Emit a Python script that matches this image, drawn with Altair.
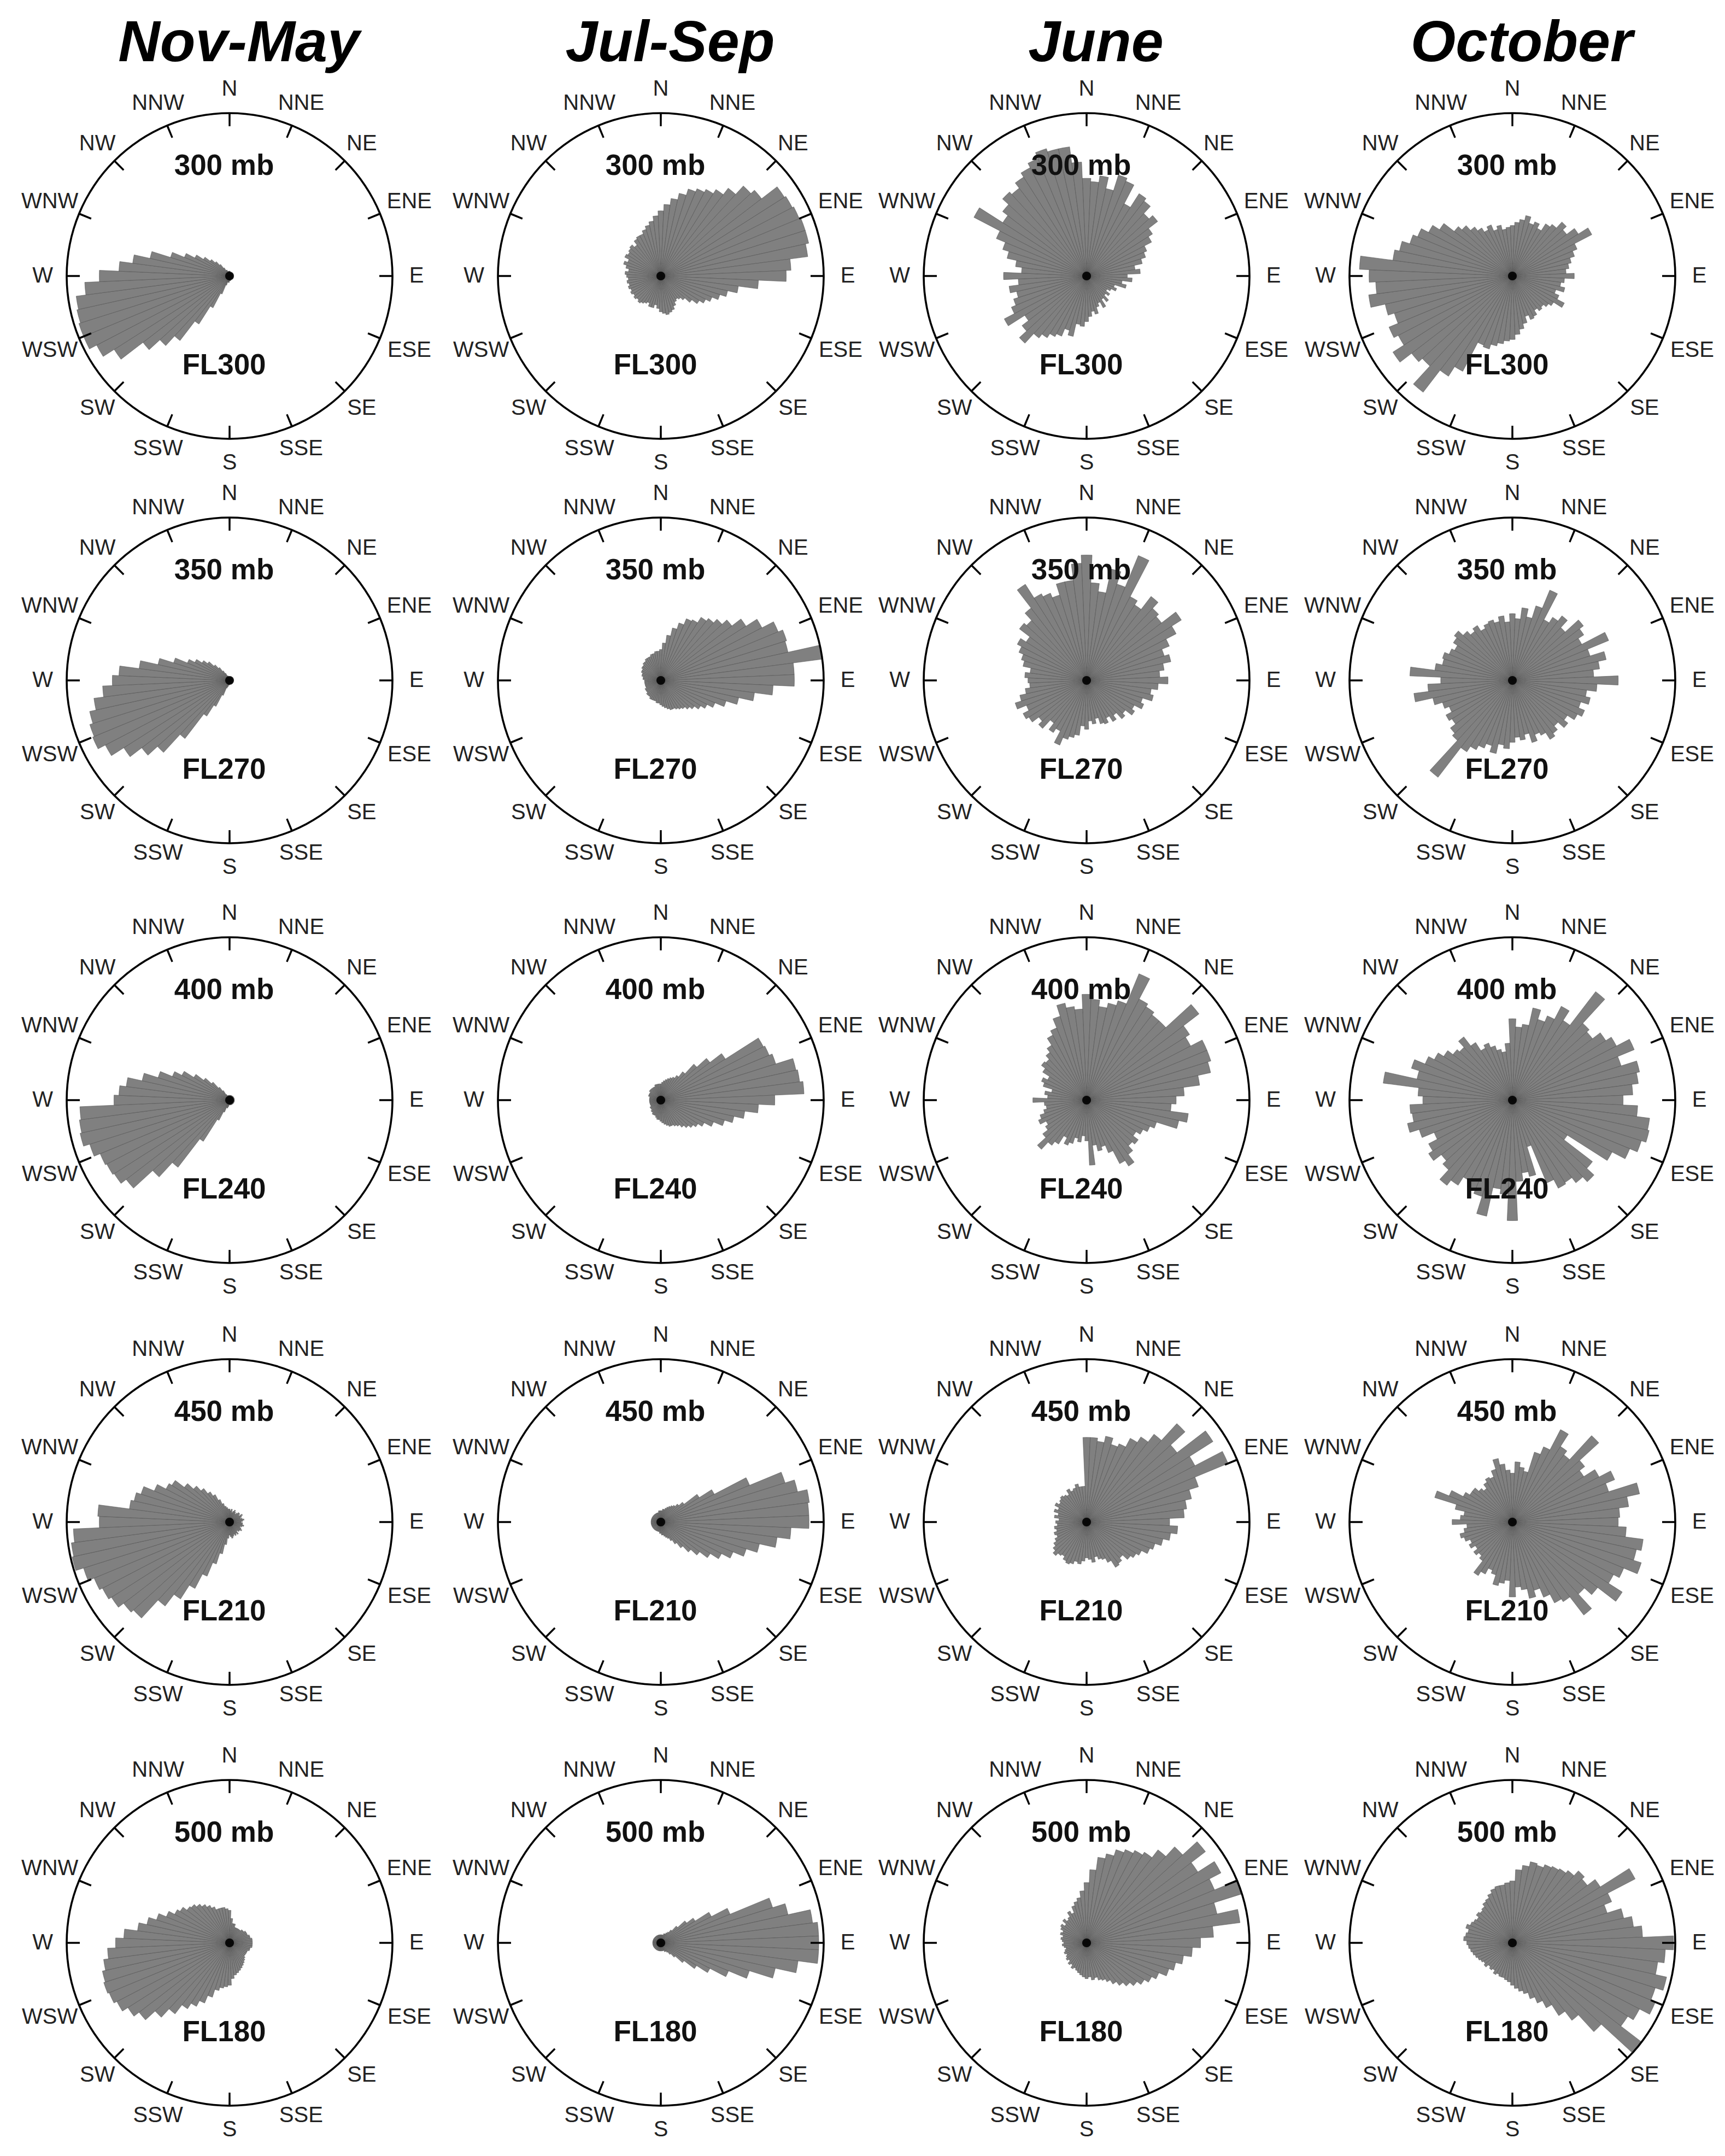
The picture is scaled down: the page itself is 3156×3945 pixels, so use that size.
import math
import altair as alt
import pandas as pd

SEASONS = ["Nov-May", "Jul-Sep", "June", "October"]
LEVELS_MB = ["300 mb", "350 mb", "400 mb", "450 mb", "500 mb"]
FLIGHT_LEVELS = ["FL300", "FL270", "FL240", "FL210", "FL180"]
COMPASS = ["N", "NNE", "NE", "ENE", "E", "ESE", "SE", "SSE",
           "S", "SSW", "SW", "WSW", "W", "WNW", "NW", "NNW"]
DIR_BINS = list(range(0, 360, 5))  # bin centres, degrees clockwise from N

# relative frequency per 5-degree bin (100 = outer circle)
NOV_MAY_300 = [3,3,2,2,2,2,2,2,2,2, 2,2,2,2,2,2,2,2,2,2, 2,2,2,2,2,2,2,2,2,2,
               2,2,2,2,3,3,3,4,4,4, 6,12,22,35,50,58,67,84,92,97, 97,96,95,89,80,68,60,50,38,30,
               24,19,15,12,9,6,4,4,3,3, 3,3]
NOV_MAY_350 = [2]*37 + [3,3,4] + [5,10,18,26,45,60,68,77,86,91, 90,88,84,78,72,68,56,45,36,28,
               24,20,17,13,10,7,5,3,3,2, 2,2]
NOV_MAY_400 = [3]*38 + [4,5,5,8,14,30,52,64,80,84, 85,86,90,94,93,92,71,68,64,55,
               46,38,33,26,20,15,10,7,4,3, 3,3,3,3]
NOV_MAY_450 = [8,7,8,6,7,8,7,6,7,8, 8,7,9,8,7,8,9,8,7,8, 8,9,8,7,8,9,8,8,7,9, 8,9,8,9,10,9,
               8,10,14,20,27,36,46,56,65,80, 82,86,88,90,94,99,98,96,80,81,
               62,60,57,50,44,42,35,30,26,22, 19,15,12,10,9,8]
NOV_MAY_500 = [20,15,12,12,10,10,10,10,10,11, 11,12,12,12,13,13,14,14,14,14,
               14,13,13,12,12,12,12,13,14,15, 16,17,18,19,20,22,26,27,28,30,
               35,40,44,48,55,62,70,74,78,80, 81,80,78,75,70,65,57,52,47,42,
               38,36,33,32,30,28,26,24,22,22, 22,21]

JUL_SEP_300 = [40,44,48,52,56,58,60,63,68,75, 78,90,91,92,93,93,91,80,77,60,
               48,42,38,34,31,28,24,20,18,17, 18,20,22,23,24,23,22,20,18,20,
               20,18,19,20,21,20,21,20,21,20, 21,20,21,20,21,22,20,22,24,22,
               25,24,25,26,24,27,28,28,30,32, 34,37]
JUL_SEP_350 = [19,23,28,33,37,41,42,46,48,51, 55,62,70,78,81,80,100,82,82,69,
               58,49,42,36,32,29,26,24,22,21, 20,19,19,18,17,16,15,14,14,13,
               13,13,13,12,12,12,11,11,11,10, 10,10,10,10,10,11,11,12,12,13,
               13,14,14,15,15,16,16,16,17,17, 18,18]
JUL_SEP_400 = [10,11,12,13,14,15,16,18,22,30, 38,47,71,72,74,85,86,88,70,60,
               52,46,41,35,30,27,25,23,21,19, 18,17,17,16,15,14,13,12,12,11,
               10,10,10,9,9,8,8,8,7,7, 7,7,7,7,7,7,7,7,8,8,
               8,8,9,9,9,9,9,9,10,10, 10,10]
JUL_SEP_450 = [7,7,8,8,9,10,11,12,13,15, 18,28,37,59,80,86,92,91,91,80,
               72,62,55,48,42,36,30,25,20,16, 13,11,10,9,8,8,
               7,7,6,6,6,6,6,6,6,6, 6,6,6,6,6,6,6,6,6,6, 6,6,6,6,6,6,6,6,6,6, 6,6,6,6,7,7]
JUL_SEP_500 = [5,5,5,5,6,6,7,8,10,14, 20,25,35,46,72,80,94,97,97,97,
               85,72,57,45,34,26,18,12,9,7, 6,6,5] + [5]*39

JUNE_300 = [60,58,62,55,65,63,50,60,58,52, 55,48,45,40,38,35,30,33,25,28,
            22,25,18,20,17,15,18,16,20,17, 22,18,20,24,22,25,28,31,30,38,
            35,40,42,45,48,56,50,45,57,50, 47,44,48,42,51,40,44,50,54,60,
            78,61,65,70,68,72,75,78,82,80, 80,70]
JUNE_350 = [77,60,55,70,62,83,58,55,65,60, 58,69,62,55,50,53,48,45,50,44,
            40,42,36,38,33,35,30,32,27,30, 26,29,28,24,27,25,30,28,34,36,
            38,43,35,38,33,40,37,42,44,40, 46,42,38,35,36,38,35,40,42,45,
            48,44,52,50,56,70,60,58,55,62, 62,72]
JUNE_400 = [65,62,58,61,64,84,70,68,66,66, 87,75,72,80,80,78,70,60,55,52,
            63,58,45,42,39,36,40,38,42,48, 44,35,30,32,28,40,25,22,26,24,
            28,30,26,32,35,41,34,30,28,32, 30,27,25,26,33,24,26,22,28,30,
            27,32,35,34,37,40,45,48,54,61, 58,56]
JUNE_450 = [52,52,50,54,50,52,58,62,68,82, 70,92,75,94,72,66,62,60,51,56,
            52,48,44,42,38,36,34,30,32,33, 28,25,24,22,25,23,22,24,26,25,
            27,28,27,25,26,28,26,24,22,20, 21,19,20,18,19,17,20,18,21,19,
            22,20,21,22,21,20,23,21,22,24, 22,22]
JUNE_500 = [37,45,53,56,60,62,64,66,72,80, 92,81,93,85,100,82,95,78,70,65,
            60,56,53,48,45,42,39,36,33,30, 27,25,24,22,23,21,22,21,20,19,
            18,17,18,16,17,15,16,15,14,15, 14,13,14,15,14,15,16,15,17,16,
            18,19,17,20,18,19,22,20,24,26, 28,32]

OCT_300 = [31,33,35,38,34,36,33,38,40,45, 42,48,55,43,40,37,35,33,38,32,
           30,33,28,31,36,30,28,26,27,25, 28,29,26,30,33,36,39,40,42,44,
           47,46,66,73,90,75,78,87,79,82, 76,80,89,84,88,94,74,71,66,63,
           58,53,45,42,38,35,32,34,30,32, 29,30]
OCT_350 = [41,38,45,40,48,60,42,46,50,44, 55,52,48,64,50,59,54,50,65,52,
           46,49,44,48,45,40,43,38,41,43, 38,36,40,34,37,35,38,42,40,46,
           42,45,48,52,75,50,48,44,46,42, 45,50,61,52,44,63,48,44,45,42,
           40,43,45,41,38,40,36,38,39,37, 40,36]
OCT_400 = [50,45,47,58,52,56,65,58,84,64, 62,68,72,81,70,80,78,74,68,77,
           85,86,83,78,69,40,62,68,64,60, 61,55,30,48,45,50,74,58,55,73,
           62,60,56,62,66,58,55,61,58,52, 60,66,62,63,55,58,80,60,65,58,
           54,50,46,44,49,42,36,38,35,32, 30,35]
OCT_450 = [30,37,34,32,45,50,64,55,52,72, 56,52,60,68,62,80,72,66,65,70,
           81,78,83,74,70,80,66,60,72,58, 56,50,44,48,42,40,46,36,38,40,
           34,32,36,39,30,28,30,27,30,28, 31,33,30,28,37,32,30,36,50,42,
           34,31,31,28,26,29,31,30,34,40, 36,32]
OCT_500 = [38,45,48,51,50,52,53,54,56,60, 58,64,85,66,61,70,75,80,99,94,
           90,97,92,95,88,84,100,74,60,53, 45,40,36,32,30,28,26,24,23,22,
           22,21,22,20,21,20,22,21,22,23, 24,25,26,27,28,30,29,28,30,28,
           27,26,28,27,28,30,31,33,35,36, 36,37]

ROSES = {
    "Nov-May": [NOV_MAY_300, NOV_MAY_350, NOV_MAY_400, NOV_MAY_450, NOV_MAY_500],
    "Jul-Sep": [JUL_SEP_300, JUL_SEP_350, JUL_SEP_400, JUL_SEP_450, JUL_SEP_500],
    "June": [JUNE_300, JUNE_350, JUNE_400, JUNE_450, JUNE_500],
    "October": [OCT_300, OCT_350, OCT_400, OCT_450, OCT_500],
}

# ---------- tables ----------
rose_rows, panel_rows, compass_rows = [], [], []
for ci, season in enumerate(SEASONS):
    for ri, lev in enumerate(LEVELS_MB):
        vals = ROSES[season][ri]
        for d, v in zip(DIR_BINS, vals):
            rose_rows.append({"col": ci, "row": ri, "dir": d, "freq": v})
        panel_rows.append({"col": ci, "row": ri, "level": lev, "fl": FLIGHT_LEVELS[ri]})
        for k, lab in enumerate(COMPASS):
            compass_rows.append({"col": ci, "row": ri, "label": lab, "ang": k * 22.5,
                                 "wide": lab in ("ENE", "ESE", "WSW", "WNW")})
rose_df = pd.DataFrame(rose_rows)
panel_df = pd.DataFrame(panel_rows)
compass_df = pd.DataFrame(compass_rows)
title_df = pd.DataFrame({"col": list(range(len(SEASONS))), "title": SEASONS})

# ---------- scales ----------
XS = alt.Scale(domain=[0, 1, 2, 3], range=[412, 1201, 1980, 2759], nice=False)
YS = alt.Scale(domain=[0, 1, 2, 3, 4], range=[497, 1237, 2005, 2777, 3547], nice=False)
TS = alt.Scale(domain=[0, 360], range=[0, 2 * math.pi], nice=False)
RS = alt.Scale(type="linear", domain=[0, 100], range=[0, 298], nice=False)
R_CIRCLE = 298

FONT = "Liberation Sans, Arial, Helvetica, sans-serif"

X = alt.X("col:Q", scale=XS, axis=None)
Y = alt.Y("row:Q", scale=YS, axis=None)

bars = alt.Chart(rose_df).transform_calculate(
    a0="datum.dir - 2.5", a1="datum.dir + 2.5"
).mark_arc(fill="#808080", stroke="#4a4a4a", strokeWidth=0.8, strokeOpacity=0.7).encode(
    x=X, y=Y,
    theta=alt.Theta("a0:Q", scale=TS, stack=False),
    theta2=alt.Theta2("a1:Q"),
    radius=alt.Radius("freq:Q", scale=RS),
)

center_dot = alt.Chart(panel_df).mark_circle(size=260, color="#000000", opacity=0.9).encode(x=X, y=Y)

ring = alt.Chart(panel_df).mark_arc(
    radius=R_CIRCLE - 1.8, radius2=R_CIRCLE + 1.8, theta=0, theta2=2 * math.pi, fill="#000000"
).encode(x=X, y=Y)

ticks = alt.Chart(compass_df).transform_calculate(
    t0="datum.ang - 0.35", t1="datum.ang + 0.35"
).mark_arc(radius=R_CIRCLE - 24, radius2=R_CIRCLE, fill="#000000").encode(
    x=X, y=Y,
    theta=alt.Theta("t0:Q", scale=TS, stack=False),
    theta2=alt.Theta2("t1:Q"),
)

def compass_labels(wide, rad):
    return alt.Chart(compass_df).transform_filter(
        "datum.wide" if wide else "!datum.wide"
    ).mark_text(font=FONT, fontSize=40, color="#222222", align="center", baseline="middle").encode(
        x=X, y=Y,
        theta=alt.Theta("ang:Q", scale=TS, stack=False),
        radius=alt.value(rad),
        text="label:N",
    )

lab_narrow = compass_labels(False, 342)
lab_wide = compass_labels(True, 356)

level_text = alt.Chart(panel_df).mark_text(
    font=FONT, fontSize=53, fontWeight="bold", color="#111111", align="center", baseline="middle", dx=-10
).encode(x=X, y=Y, theta=alt.value(0), radius=alt.value(201), text="level:N")

fl_text = alt.Chart(panel_df).mark_text(
    font=FONT, fontSize=53, fontWeight="bold", color="#111111", align="center", baseline="middle", dx=-10
).encode(x=X, y=Y, theta=alt.value(math.pi), radius=alt.value(164), text="fl:N")

titles = alt.Chart(title_df).mark_text(
    font=FONT, fontSize=106, fontWeight="bold", fontStyle="italic", color="#000000",
    align="center", baseline="alphabetic", dx=17
).encode(x=X, y=alt.value(104), text="title:N")

chart = alt.layer(
    bars, center_dot, ring, ticks, lab_narrow, lab_wide, level_text, fl_text, titles
).properties(width=3140, height=3925, padding=0).configure_view(stroke=None)

chart.save("out.html", embed_options={"renderer": "svg", "actions": False})
